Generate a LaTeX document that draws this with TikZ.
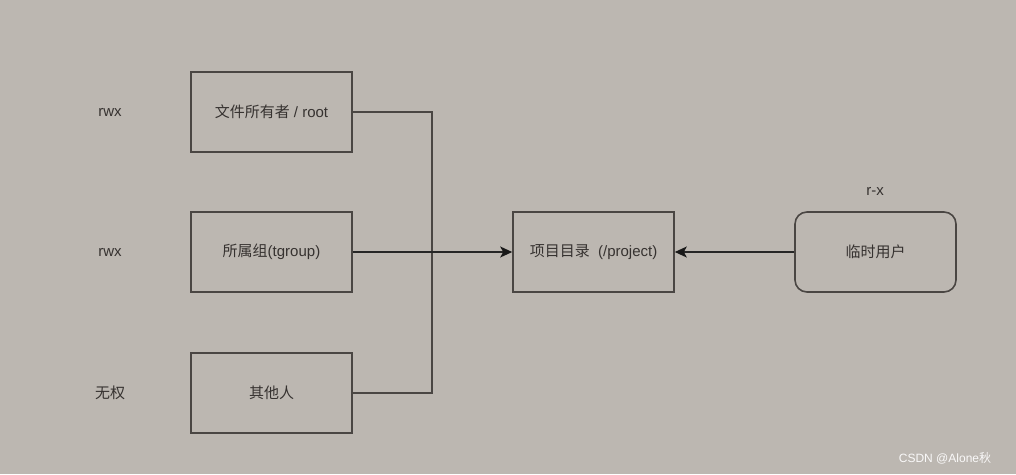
\documentclass[tikz,border=0pt]{standalone}
\usepackage{fontspec}
\setmainfont{Liberation Sans}
\newfontfamily\cjk{Noto Sans CJK SC}
\usetikzlibrary{arrows.meta}
\definecolor{bg}{HTML}{BCB7B1}
\definecolor{ln}{HTML}{4A4643}
\definecolor{tx}{HTML}{363230}
\tikzset{
  x=1pt,y=-1pt,
  box/.style={draw=ln,line width=1.6pt,minimum width=161pt,minimum height=80pt,inner sep=0pt,text=tx,font=\fontsize{15}{17}\selectfont},
  rbox/.style={box,rounded corners=12pt},
  lbl/.style={text=tx,font=\fontsize{15}{17}\selectfont,inner sep=0pt},
  wire/.style={draw=ln,line width=1.6pt},
  arr/.style={wire,-{Stealth[length=12pt,width=11pt,inset=3pt,color=black!90]}}
}
\begin{document}
\begin{tikzpicture}
\fill[bg] (0,0) rectangle (1016,474);
\useasboundingbox (0,0) rectangle (1016,474);
\node[box] (owner) at (271.5,112) {{\cjk 文件所有者} / root};
\node[box] (group) at (271.5,252) {{\cjk 所属组}(tgroup)};
\node[box] (other) at (271.5,393) {\cjk 其他人};
\node[box] (proj) at (593.5,252) {{\cjk 项目目录}\ \ (/project)};
\node[rbox] (temp) at (875.5,252) {\cjk 临时用户};
\node[lbl] (l1) at (110,112) {rwx};
\node[lbl] (l2) at (110,252) {rwx};
\node[lbl] (l3) at (110,393) {\cjk 无权};
\node[lbl] (l4) at (875,191) {r-x};
\node[text=white!92!bg,font=\fontsize{12}{14}\selectfont,inner sep=0pt] (wm) at (945,458) {CSDN @Alone{\cjk 秋}};
\coordinate (j) at (432,252);
\draw[wire] (owner.east) -| (j);
\draw[wire] (other.east) -| (j);
\draw[arr,draw=black!85] (group.east) -- (proj.west);
\draw[arr,draw=black!85] (temp.west) -- (proj.east);
\end{tikzpicture}
\end{document}
